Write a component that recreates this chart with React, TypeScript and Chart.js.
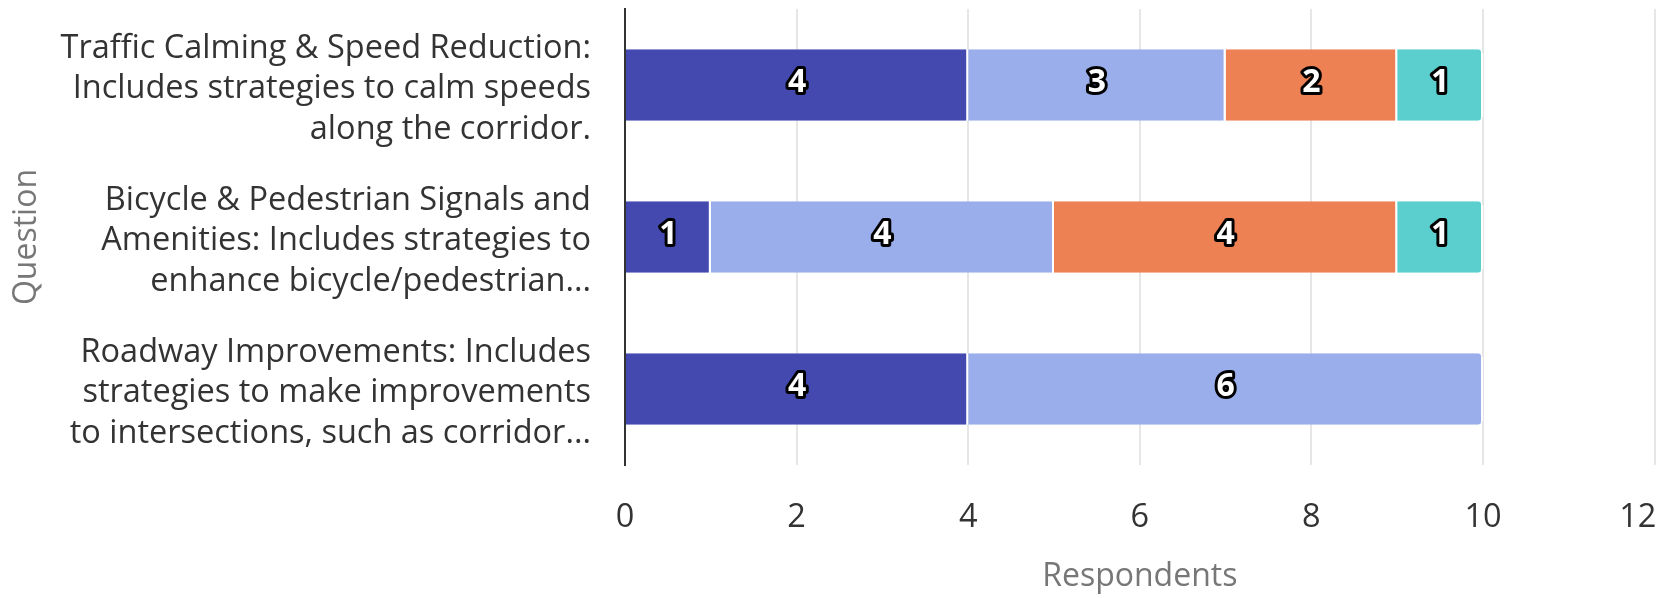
import React, { useEffect, useRef } from "react";
import { Chart, registerables } from "chart.js";

Chart.register(...registerables);

const categories: string[][] = [
  ["Traffic Calming & Speed Reduction:", "Includes strategies to calm speeds", "along the corridor."],
  ["Bicycle & Pedestrian Signals and", "Amenities: Includes strategies to", "enhance bicycle/pedestrian..."],
  ["Roadway Improvements: Includes", "strategies to make improvements", "to intersections, such as corridor..."],
];

const seriesNames = ["Rank 1", "Rank 2", "Rank 3", "Rank 4"];
const series1: (number | null)[] = [4, 1, 4];
const series2: (number | null)[] = [3, 4, 6];
const series3: (number | null)[] = [2, 4, null];
const series4: (number | null)[] = [1, 1, null];
const seriesColors = ["#4449B0", "#9AAEEC", "#EE8153", "#5BCECE"];

const xTickMax = 12;
const xTickStep = 2;
const xTitle = "Respondents";
const yTitle = "Question";

const FONT = "'Open Sans', 'Noto Sans', sans-serif";

const labelPlugin = {
  id: "segLabels",
  afterDatasetsDraw(chart: any) {
    const ctx = chart.ctx;
    ctx.save();
    ctx.font = `bold 32px ${FONT}`;
    ctx.textAlign = "center";
    ctx.textBaseline = "middle";
    ctx.lineJoin = "round";
    chart.data.datasets.forEach((ds: any, di: number) => {
      const meta = chart.getDatasetMeta(di);
      meta.data.forEach((el: any, i: number) => {
        const v = ds.data[i];
        if (v === null || v === undefined || v === 0) return;
        const x = (el.x + el.base) / 2;
        const y = el.y - 2;
        ctx.lineWidth = 6;
        ctx.strokeStyle = "#000";
        ctx.strokeText(String(v), x, y);
        ctx.fillStyle = "#fff";
        ctx.fillText(String(v), x, y);
      });
    });
    ctx.restore();
  },
};

export default function App() {
  const ref = useRef<HTMLCanvasElement>(null);
  useEffect(() => {
    document.body.style.margin = "0";
    const data = [series1, series2, series3, series4];
    const chart = new Chart(ref.current as HTMLCanvasElement, {
      type: "bar",
      data: {
        labels: categories as any,
        datasets: data.map((d, i) => ({
          label: seriesNames[i],
          data: d,
          backgroundColor: seriesColors[i],
          borderColor: "#ffffff",
          borderWidth: { top: 0, bottom: 0, left: 0, right: 2 },
          borderRadius: 5,
          borderSkipped: "start",
          categoryPercentage: 1,
          barPercentage: 0.47,
        })),
      },
      options: {
        indexAxis: "y",
        animation: false,
        responsive: true,
        maintainAspectRatio: false,
        layout: { padding: { top: 9, right: 12.4, left: 0, bottom: 0 } },
        plugins: { legend: { display: false }, tooltip: { enabled: false } },
        scales: {
          x: {
            stacked: true,
            min: 0,
            max: xTickMax,
            ticks: {
              stepSize: xTickStep,
              color: "#333",
              font: { family: FONT, size: 32.5 },
              padding: 33.5,
              callback: (v: any) => (Number(v) === xTickMax ? `${v}    ` : `${v}`),
            },
            grid: { color: "#e6e6e6", lineWidth: 2, drawTicks: false },
            border: { display: false },
            title: { display: true, text: xTitle, color: "#777", font: { family: FONT, size: 32 }, padding: { top: 0, bottom: 2 } },
            afterFit: (s: any) => {
              s.height = 133;
              s.paddingLeft = 0;
              s.paddingRight = 0;
            },
          },
          y: {
            stacked: true,
            ticks: { color: "#333", font: { family: FONT, size: 32.5, lineHeight: 1.24 }, padding: 34, labelOffset: 4 },
            grid: { display: false, drawTicks: false },
            border: { display: true, color: "#333", width: 2 },
            title: { display: true, text: yTitle, color: "#777", font: { family: FONT, size: 32 }, padding: { top: 8, bottom: 0 } },
            afterFit: (s: any) => {
              s.width = 625;
              s.paddingTop = 0;
              s.paddingBottom = 0;
            },
          },
        },
      },
      plugins: [labelPlugin],
    });
    return () => chart.destroy();
  }, []);
  return (
    <div style={{ width: 1667, height: 598, position: "relative" }}>
      <canvas ref={ref} />
    </div>
  );
}
